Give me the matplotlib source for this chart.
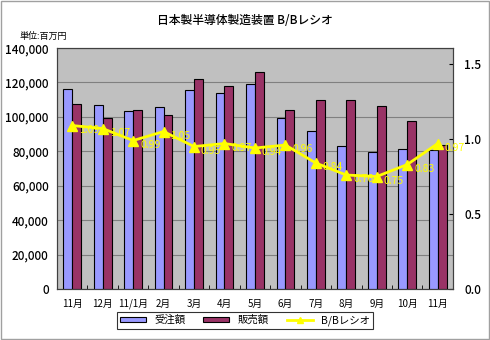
import matplotlib
matplotlib.use("Agg")
import matplotlib.pyplot as plt
import numpy as np
from matplotlib.lines import Line2D
from matplotlib.patches import Patch

plt.rcParams['font.family'] = ['Noto Sans CJK JP', 'DejaVu Sans']

months = ["11月", "12月", "11/1月", "2月", "3月", "4月", "5月", "6月", "7月", "8月", "9月", "10月", "11月"]
orders = [116000, 106800, 103400, 105700, 115600, 113900, 119100, 99300, 91800, 83000, 79600, 81300, 80700]
sales = [107500, 99300, 104000, 101000, 122000, 117900, 126000, 104000, 109800, 109800, 106300, 97600, 83700]
ratio = [1.09, 1.07, 0.99, 1.05, 0.95, 0.97, 0.94, 0.96, 0.84, 0.76, 0.75, 0.83, 0.97]
ratio_labels = ["1.09", "1.07", "0.99", "1.05", "0.95", "0.97", "0.94", "0.96", "0.84", "0.76", "0.75", "0.83", "0.97"]

fig = plt.figure(figsize=(4.9, 3.4), dpi=100)
fig.patch.set_facecolor('white')
fig.add_artist(plt.Rectangle((0.002, 0.003), 0.995, 0.993, transform=fig.transFigure,
                             fill=False, edgecolor='#a0a0a0', linewidth=1))

ax = fig.add_axes([0.1163, 0.15, 0.808, 0.7088])
ax.set_facecolor('#C0C0C0')
x = np.arange(len(months))
w = 0.29
ax.bar(x - w / 2, orders, width=w, color='#9999FF', edgecolor='black', linewidth=0.8, zorder=3)
ax.bar(x + w / 2, sales, width=w, color='#993366', edgecolor='black', linewidth=0.8, zorder=3)
ax.set_xlim(-0.5, len(months) - 0.5)
ax.set_ylim(0, 140000)
ax.set_yticks(np.arange(0, 140001, 20000))
ax.set_yticklabels([f"{v:,}" for v in range(0, 140001, 20000)], fontsize=8.5, fontweight='medium')
ax.yaxis.grid(True, color='#808080', linewidth=0.8, zorder=0)
ax.set_axisbelow(True)
ax.tick_params(axis='y', length=0, pad=6)
ax.set_xticks(x)
ax.set_xticklabels(months, fontsize=7)
ax.tick_params(axis='x', length=0, pad=7)
ax.set_xticks(np.arange(-0.5, len(months), 1), minor=True)
ax.tick_params(axis='x', which='minor', length=3, direction='in')
for s in ax.spines.values():
    s.set_color('#404040')
    s.set_linewidth(0.8)

ax2 = ax.twinx()
ax2.set_ylim(0, 1.607)
ax2.set_yticks([0.0, 0.5, 1.0, 1.5])
ax2.set_yticklabels(["0.0", "0.5", "1.0", "1.5"], fontsize=8.5, fontweight='medium')
ax2.tick_params(axis='y', length=3, direction='in', pad=8)
ax2.plot(x, ratio, color='#FFFF00', linewidth=2, marker='^', markersize=7, zorder=5)
for xi, r, lab in zip(x, ratio, ratio_labels):
    ax2.annotate(lab, (xi, r), xytext=(5, -3), textcoords='offset points',
                 color='#FFFF00', fontsize=7.5, va='center', ha='left', zorder=6)
for s in ax2.spines.values():
    s.set_color('#404040')
    s.set_linewidth(0.8)

fig.text(0.5, 0.94, "日本製半導体製造装置 B/Bレシオ", ha='center', va='center', fontsize=8.5,
         fontweight='medium')
fig.text(0.04, 0.893, "単位:百万円", ha='left', va='center', fontsize=6.5)

handles = [Patch(facecolor='#9999FF', edgecolor='black', linewidth=0.8),
           Patch(facecolor='#993366', edgecolor='black', linewidth=0.8),
           Line2D([0], [0], color='#FFFF00', linewidth=2, marker='^', markersize=5)]
leg = fig.legend(handles, ["受注額", "販売額", "B/Bレシオ"], loc='center',
                 bbox_to_anchor=(0.5, 0.058), ncol=3, fontsize=7.5, frameon=True,
                 fancybox=False, edgecolor='black', handlelength=2.5, handleheight=0.5,
                 columnspacing=1.7, borderpad=0.3)
leg.get_frame().set_linewidth(0.8)

fig.savefig("out.png", dpi=100)
